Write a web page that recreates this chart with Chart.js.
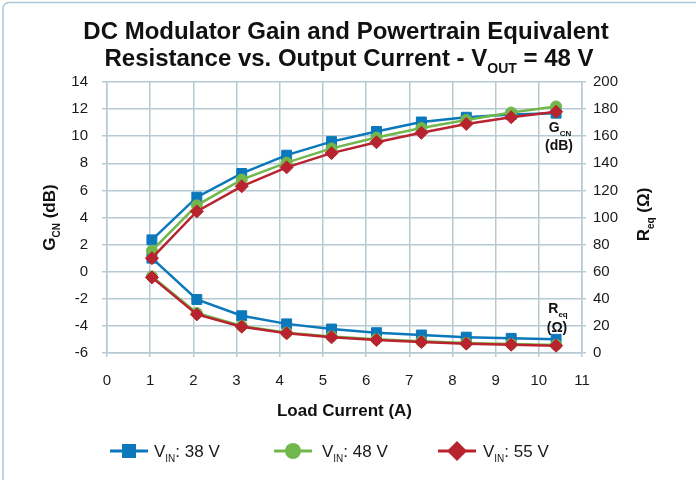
<!DOCTYPE html>
<html><head><meta charset="utf-8">
<script src="https://cdn.jsdelivr.net/npm/chart.js@4/dist/chart.umd.min.js"></script>
<style>html,body{margin:0;padding:0;background:#fff;overflow:hidden}#wrap{width:696px;height:480px;position:relative}</style>
</head><body><div id="wrap"><canvas id="c" width="696" height="480"></canvas></div>
<script>
const current = [1.04, 2.08, 3.12, 4.16, 5.2, 6.24, 7.28, 8.32, 9.36, 10.4];
const gcn38 = [2.35, 5.5, 7.25, 8.6, 9.6, 10.35, 11.05, 11.4, 11.6, 11.7];
const gcn48 = [1.55, 4.9, 6.8, 8.05, 9.1, 9.9, 10.6, 11.2, 11.75, 12.2];
const gcn55 = [1.0, 4.45, 6.3, 7.7, 8.75, 9.55, 10.25, 10.9, 11.4, 11.8];
const req38 = [70, 39.5, 27.5, 21.5, 17.7, 15, 13.3, 11.7, 10.8, 10.1];
const req48 = [56.5, 29.5, 20, 15, 12.2, 10.2, 8.6, 7.4, 6.6, 5.9];
const req55 = [55.8, 28.5, 19.4, 14.5, 11.6, 9.6, 8.1, 6.9, 6.1, 5.4];
const seriesNames = ['38 V', '48 V', '55 V'];
const xRange = [0, 11];
const gcnRange = [-6, 14];
const reqRange = [0, 200];

const FONT = '"Liberation Sans", Arial, sans-serif';
const BLUE = '#0a78ba', GREEN = '#72b74b', RED = '#b8232f';
const GRID = '#b6cad4', MINOR = '#e3e6e8', TXT = '#1a1a1a';

function pts(ys) { return current.map((x, i) => ({x: x, y: ys[i]})); }
function ds(label, ys, axis, color, style, radius, order) {
  return {label, data: pts(ys), yAxisID: axis, borderColor: color, backgroundColor: color,
    pointBackgroundColor: color, pointBorderColor: color, pointBorderWidth: 1,
    pointStyle: style, pointRadius: radius, borderWidth: 2.5, tension: 0, order};
}

function drawSub(ctx, parts, x, y, align, size, subSize, bold) {
  const w = bold ? 'bold ' : '';
  let total = 0;
  parts.forEach(p => { ctx.font = w + (p.sub ? subSize : size) + 'px ' + FONT; total += ctx.measureText(p.t).width; });
  let cx = align === 'center' ? x - total / 2 : (align === 'right' ? x - total : x);
  ctx.textAlign = 'left';
  ctx.textBaseline = 'alphabetic';
  parts.forEach(p => {
    ctx.font = w + (p.sub ? subSize : size) + 'px ' + FONT;
    ctx.fillText(p.t, cx, y + (p.sub ? size * 0.3 : 0));
    cx += ctx.measureText(p.t).width;
  });
}

const deco = {
  id: 'deco',
  beforeDraw(chart) {
    const ctx = chart.ctx;
    ctx.save();
    ctx.fillStyle = '#fff';
    ctx.fillRect(0, 0, 696, 480);
    ctx.strokeStyle = '#a9c8d8';
    ctx.lineWidth = 1.5;
    ctx.beginPath();
    ctx.moveTo(3, 480);
    ctx.lineTo(3, 8);
    ctx.arcTo(3, 2.5, 9, 2.5, 6);
    ctx.lineTo(700, 2.5);
    ctx.stroke();
    ctx.restore();
  },
  afterDraw(chart) {
    const ctx = chart.ctx;
    const a = chart.chartArea;
    ctx.save();
    ctx.fillStyle = '#111';
    // title
    drawSub(ctx, [{t: 'DC Modulator Gain and Powertrain Equivalent'}], 346, 39, 'center', 24, 14, true);
    drawSub(ctx, [{t: 'Resistance vs. Output Current - V'}, {t: 'OUT', sub: true}, {t: ' = 48 V'}], 349, 66, 'center', 24, 14, true);
    // x title
    drawSub(ctx, [{t: 'Load Current (A)'}], (a.left + a.right) / 2, 416, 'center', 17, 11, true);
    // left y title
    ctx.save();
    ctx.translate(55, (a.top + a.bottom) / 2);
    ctx.rotate(-Math.PI / 2);
    drawSub(ctx, [{t: 'G'}, {t: 'CN', sub: true}, {t: ' (dB)'}], 0, 0, 'center', 17, 10, true);
    ctx.restore();
    // right y title
    ctx.save();
    ctx.translate(649, (a.top + a.bottom) / 2 - 3);
    ctx.rotate(-Math.PI / 2);
    drawSub(ctx, [{t: 'R'}, {t: 'eq', sub: true}, {t: ' (\u03A9)'}], 0, 0, 'center', 17, 10, true);
    ctx.restore();
    // annotations
    drawSub(ctx, [{t: 'G'}, {t: 'CN', sub: true}], 560, 132, 'center', 14, 8, true);
    drawSub(ctx, [{t: '(dB)'}], 559, 150, 'center', 14, 8, true);
    drawSub(ctx, [{t: 'R'}, {t: 'eq', sub: true}], 558, 313, 'center', 14, 8, true);
    drawSub(ctx, [{t: '(\u03A9)'}], 557, 332, 'center', 14, 8, true);
    // legend
    const ly = 451;
    const items = [
      {c: BLUE, x: 110, style: 'sq', tx: 154},
      {c: GREEN, x: 274, style: 'ci', tx: 322},
      {c: RED, x: 438, style: 'di', tx: 483}
    ];
    items.forEach((it, i) => {
      ctx.strokeStyle = it.c; ctx.fillStyle = it.c; ctx.lineWidth = 3;
      ctx.beginPath(); ctx.moveTo(it.x, ly); ctx.lineTo(it.x + 38, ly); ctx.stroke();
      const mx = it.x + 19;
      ctx.beginPath();
      if (it.style === 'sq') ctx.rect(mx - 7, ly - 7, 14, 14);
      else if (it.style === 'ci') ctx.arc(mx, ly, 8, 0, Math.PI * 2);
      else { ctx.moveTo(mx, ly - 10); ctx.lineTo(mx + 10, ly); ctx.lineTo(mx, ly + 10); ctx.lineTo(mx - 10, ly); ctx.closePath(); }
      ctx.fill();
      ctx.fillStyle = TXT;
      drawSub(ctx, [{t: 'V'}, {t: 'IN', sub: true}, {t: ': ' + seriesNames[i]}], it.tx, ly + 6, 'left', 17, 10, false);
    });
    ctx.restore();
  }
};

new Chart(document.getElementById('c'), {
  type: 'line',
  data: {
    datasets: [
      ds('gcn38', gcn38, 'yL', BLUE, 'rect', 7, 6),
      ds('req38', req38, 'yR', BLUE, 'rect', 7, 5),
      ds('gcn48', gcn48, 'yL', GREEN, 'circle', 5.5, 4),
      ds('req48', req48, 'yR', GREEN, 'circle', 5.5, 3),
      ds('gcn55', gcn55, 'yL', RED, 'rectRot', 6.5, 2),
      ds('req55', req55, 'yR', RED, 'rectRot', 6.5, 1)
    ]
  },
  options: {
    responsive: false, animation: false, devicePixelRatio: 1,
    layout: {padding: {top: 82, left: 0, right: 0, bottom: 0}},
    plugins: {legend: {display: false}, title: {display: false}, tooltip: {enabled: false}},
    scales: {
      x: {
        type: 'linear', min: xRange[0], max: xRange[1],
        ticks: {stepSize: 1, color: TXT, font: {family: FONT, size: 15}, padding: 15},
        grid: {color: GRID, lineWidth: 1.5, tickLength: 4, tickColor: GRID},
        border: {color: GRID, width: 1.5},
        afterFit: s => { s.height = 127; }
      },
      yL: {
        position: 'left', min: gcnRange[0], max: gcnRange[1],
        ticks: {stepSize: 1, color: TXT, font: {family: FONT, size: 15}, padding: 14,
          callback: v => (Math.abs(v) % 2 === 0 ? String(v) : '')},
        grid: {
          color: c => (c.tick && Math.abs(c.tick.value) % 2 === 1 ? MINOR : GRID),
          tickColor: GRID, lineWidth: 1.5, tickLength: 5
        },
        border: {color: GRID, width: 1.5,
          dash: c => (c.tick && Math.abs(c.tick.value) % 2 === 1 ? [8, 6] : [])},
        afterFit: s => { s.width = 107; }
      },
      yR: {
        position: 'right', min: reqRange[0], max: reqRange[1],
        ticks: {stepSize: 10, color: TXT, font: {family: FONT, size: 15}, padding: 7,
          callback: v => (v % 20 === 0 ? String(v) : '')},
        grid: {drawOnChartArea: false, tickColor: GRID, lineWidth: 1.5, tickLength: 4},
        border: {color: GRID, width: 1.5},
        afterFit: s => { s.width = 114; }
      }
    }
  },
  plugins: [deco]
});
</script></body></html>
